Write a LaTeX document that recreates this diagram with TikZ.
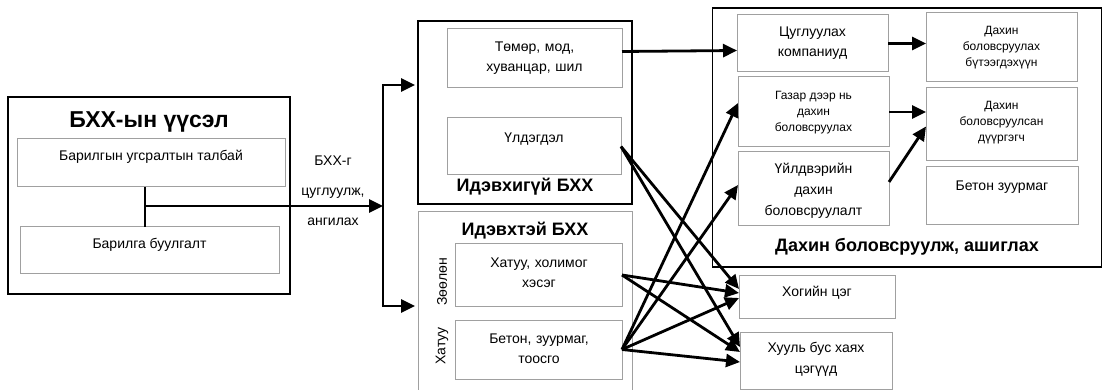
\documentclass[tikz,border=0pt]{standalone}
\usepackage{fontspec}
\setmainfont{Liberation Sans}
\usetikzlibrary{arrows.meta}
\definecolor{boxgray}{HTML}{A0A0A0}
\begin{document}
\begin{tikzpicture}[x=1pt,y=-1pt,
  blk/.style={draw=black, line width=1.4pt, inner sep=0pt, outer sep=0pt},
  gry/.style={draw=boxgray, line width=1pt, inner sep=0pt, outer sep=0pt},
  arr/.style={line width=2.8pt, -{Triangle[length=14pt,width=13pt]}},
  ln/.style={line width=2.2pt},
  lnthin/.style={line width=1.5pt},
  tA/.style={font=\fontsize{14}{20}\selectfont, align=center, inner sep=0pt},
  tB/.style={font=\fontsize{12}{16}\selectfont, align=center, inner sep=0pt},
  tC/.style={font=\fontsize{14}{21}\selectfont, align=center, inner sep=0pt},
  ttl/.style={font=\bfseries\fontsize{18}{20}\selectfont, inner sep=0pt},
  ttlbig/.style={font=\bfseries\fontsize{23}{26}\selectfont, inner sep=0pt}
]
\useasboundingbox (0,0) rectangle (1103,390);

% ---------- source ----------
\node[blk, minimum width=282pt, minimum height=197pt] (src) at (149,195.5) {};
\node[gry, minimum width=268pt, minimum height=48pt] (site) at (151,163) {};
\node[gry, minimum width=259pt, minimum height=46pt] (demo) at (149.5,250) {};
\node[ttlbig] (srcT) at (149,122) {БХХ-ын үүсэл};
\node[tA] (siteT) at (151,157) {Барилгын угсралтын талбай};
\node[tA] (demoT) at (149.5,245) {Барилга буулгалт};
\node[font=\fontsize{14}{30}\selectfont, align=center, inner sep=0pt] (lab) at (333,191) {БХХ-г\\цуглуулж,\\ангилах};

% ---------- inactive ----------
\node[blk, minimum width=214pt, minimum height=183pt] (inact) at (525,112.5) {};
\node[gry, minimum width=175pt, minimum height=59pt] (metal) at (534.5,58.5) {};
\node[gry, minimum width=174pt, minimum height=57pt] (resid) at (534,146.5) {};
\node[tA, text width=170pt] (metalT) at (534.5,58.5) {Төмөр, мод,\\хуванцар, шил};
\node[tA] (residT) at (534,139) {Үлдэгдэл};
\node[ttl] (inactT) at (525,187) {Идэвхигүй БХХ};

% ---------- active ----------
\node[gry, minimum width=214pt, minimum height=184pt] (act) at (525,304) {};
\node[gry, minimum width=167pt, minimum height=62pt] (hard) at (538.5,275) {};
\node[gry, minimum width=167pt, minimum height=59pt] (conc) at (538.5,349.5) {};
\node[ttl] (actT) at (525,231) {Идэвхтэй БХХ};
\node[tA, text width=165pt] (hardT) at (539,273) {Хатуу, холимог\\хэсэг};
\node[tA, text width=165pt] (concT) at (539,349) {Бетон, зуурмаг,\\тоосго};
\node[tA, rotate=90] (softL) at (442,282) {Зөөлөн};
\node[tA, rotate=90] (hardL) at (442,346) {Хатуу};

% ---------- recycling ----------
\node[blk, minimum width=389pt, minimum height=259pt] (rec) at (906.8,137.5) {};
\node[gry, minimum width=151pt, minimum height=57pt] (coll) at (812.5,43.5) {};
\node[gry, minimum width=151pt, minimum height=70pt] (onsite) at (813.5,112) {};
\node[gry, minimum width=151pt, minimum height=74pt] (ind) at (813.5,189) {};
\node[gry, minimum width=151pt, minimum height=69pt] (prod) at (1001.5,47.5) {};
\node[gry, minimum width=151pt, minimum height=73pt] (fill) at (1001.5,124.5) {};
\node[gry, minimum width=152pt, minimum height=58pt] (mortar) at (1002,196) {};
\node[tA] (collT) at (812.5,43) {Цуглуулах\\компаниуд};
\node[tB] (onsiteT) at (813.5,113) {Газар дээр нь\\дахин\\боловсруулах};
\node[tC] (indT) at (813.5,191) {Үйлдвэрийн\\дахин\\боловсруулалт};
\node[tB] (prodT) at (1001.5,48) {Дахин\\боловсруулах\\бүтээгдэхүүн};
\node[tB] (fillT) at (1001.5,123) {Дахин\\боловсруулсан\\дүүргэгч};
\node[tA] (mortarT) at (1002,187) {Бетон зуурмаг};
\node[ttl] (recT) at (907,247) {Дахин боловсруулж, ашиглах};

% ---------- disposal ----------
\node[gry, minimum width=156pt, minimum height=43pt] (landfill) at (817,296.5) {};
\node[gry, minimum width=152pt, minimum height=57pt] (illegal) at (816,360.5) {};
\node[tA] (landfillT) at (817,293) {Хогийн цэг};
\node[tC] (illegalT) at (816,359.5) {Хууль бус хаях\\цэгүүд};

% ---------- connectors ----------
\coordinate (j) at (145,206);
\coordinate (bus) at (383,206);
\coordinate (busT) at (383,85);
\coordinate (busB) at (383,306);
\draw[lnthin] (j |- site.south) -- (j |- demo.north);
\draw[arr] (j) -- (bus);
\draw[ln] (busT) -- (busB);
\draw[arr] ([xshift=-1.1pt]busT) -- ([xshift=-3pt]busT -| inact.west);
\draw[arr] ([xshift=-1.1pt]busB) -- ([xshift=-3pt]busB -| act.west);

\draw[arr] ([yshift=7pt]metal.east) -- ([yshift=-7pt]coll.west);
\draw[arr] (coll.east) -- (coll.east -| prod.west);
\draw[arr] (onsite.east) -- (onsite.east -| fill.west);
\draw[arr] ([yshift=7pt]ind.east) -- ([yshift=-2pt]fill.west);

\draw[arr] (resid.east) -- ([yshift=7.5pt]landfill.west);
\draw[arr] (resid.east) -- ([yshift=13.5pt]illegal.west);
\draw[arr] (hard.east) -- ([yshift=3.5pt]landfill.west);
\draw[arr] (hard.east) -- ([yshift=8.5pt]illegal.west);
\draw[arr] (conc.east) -- ([yshift=9pt]onsite.west);
\draw[arr] (conc.east) -- ([yshift=4pt]ind.west);
\draw[arr] (conc.east) -- ([yshift=-1.5pt]landfill.west);
\draw[arr] (conc.east) -- ([yshift=-1.5pt]illegal.west);
\end{tikzpicture}
\end{document}
